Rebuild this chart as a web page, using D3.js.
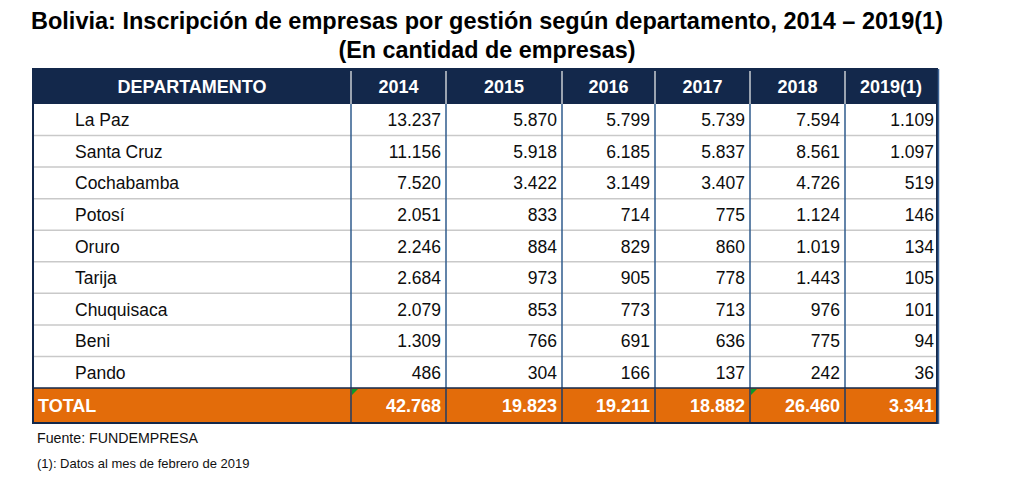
<!DOCTYPE html>
<html>
<head>
<meta charset="utf-8">
<script src="https://cdn.jsdelivr.net/npm/d3@7"></script>
<style>
  html, body { margin: 0; padding: 0; background: #fff; }
  svg { display: block; }
  text { font-family: "Liberation Sans", Arial, sans-serif; }
</style>
</head>
<body>
<svg id="chart" width="1024" height="479"></svg>
<script>
// ---- DATA ----
const titleLines = ["Bolivia: Inscripción de empresas por gestión según departamento, 2014 – 2019(1)", "(En cantidad de empresas)"];
const headerFirst = "DEPARTAMENTO";
const years = ["2014", "2015", "2016", "2017", "2018", "2019(1)"];
const departamentos = ["La Paz", "Santa Cruz", "Cochabamba", "Potosí", "Oruro", "Tarija", "Chuquisaca", "Beni", "Pando"];
const v2014 = [13237, 11156, 7520, 2051, 2246, 2684, 2079, 1309, 486];
const v2015 = [5870, 5918, 3422, 833, 884, 973, 853, 766, 304];
const v2016 = [5799, 6185, 3149, 714, 829, 905, 773, 691, 166];
const v2017 = [5739, 5837, 3407, 775, 860, 778, 713, 636, 137];
const v2018 = [7594, 8561, 4726, 1124, 1019, 1443, 976, 775, 242];
const v2019 = [1109, 1097, 519, 146, 134, 105, 101, 94, 36];
const totalLabel = "TOTAL";
const totals = [42768, 19823, 19211, 18882, 26460, 3341];
const footnotes = ["Fuente: FUNDEMPRESA", "(1): Datos al mes de febrero de 2019"];

const series = [v2014, v2015, v2016, v2017, v2018, v2019];

// ---- LAYOUT ----
const colEdges = [33, 351, 446, 562, 655, 750, 845, 937];
const headerTop = 69, headerBottom = 104, bodyBottom = 388, totalBottom = 423;
const navy = "#13284b", orange = "#e36c0a", divBlue = "#2f5b8c", rowGray = "#c9c9c9";

const fmt = d3.formatLocale({ decimal: ",", thousands: ".", grouping: [3], currency: ["", ""] }).format(",d");

const svg = d3.select("#chart");

const colKeys = [headerFirst, ...years];
const xLeft = d3.scaleOrdinal().domain(colKeys).range(colEdges.slice(0, -1));
const xRight = d3.scaleOrdinal().domain(colKeys).range(colEdges.slice(1));
const y = d3.scaleBand().domain(departamentos).range([headerBottom, bodyBottom]);

// ---- TITLE ----
const titleG = svg.append("g");
titleG.append("text").attr("x", 487).attr("y", 29).attr("text-anchor", "middle")
  .attr("font-weight", "bold").attr("font-size", 24)
  .attr("textLength", 912).attr("lengthAdjust", "spacingAndGlyphs")
  .text(titleLines[0]);
titleG.append("text").attr("x", 487).attr("y", 58).attr("text-anchor", "middle")
  .attr("font-weight", "bold").attr("font-size", 24)
  .attr("textLength", 297).attr("lengthAdjust", "spacingAndGlyphs")
  .text(titleLines[1]);

// ---- HEADER ----
svg.append("rect").attr("x", colEdges[0]).attr("y", headerTop)
  .attr("width", colEdges[7] - colEdges[0]).attr("height", headerBottom - headerTop).attr("fill", navy);
svg.selectAll(".hdr").data(colKeys).join("text")
  .attr("x", d => (xLeft(d) + xRight(d)) / 2)
  .attr("y", (headerTop + headerBottom) / 2 + 6.5)
  .attr("text-anchor", "middle").attr("fill", "#fff").attr("font-weight", "bold").attr("font-size", 18)
  .text(d => d);
svg.selectAll(".hdiv").data(colKeys.slice(1)).join("line")
  .attr("x1", d => xLeft(d)).attr("x2", d => xLeft(d))
  .attr("y1", headerTop + 2).attr("y2", headerBottom)
  .attr("stroke", "#9aa3b0").attr("stroke-width", 2);

// ---- BODY ----
const body = svg.append("g");
body.selectAll(".rsep").data(departamentos.slice(1)).join("line")
  .attr("x1", colEdges[0]).attr("x2", colEdges[7])
  .attr("y1", d => y(d)).attr("y2", d => y(d))
  .attr("stroke", rowGray).attr("stroke-width", 1.5);
body.selectAll(".dep").data(departamentos).join("text")
  .attr("x", 75).attr("y", d => y(d) + y.bandwidth() / 2 + 6.5)
  .attr("font-size", 17.5).attr("fill", "#0d0d0d")
  .text(d => d);
years.forEach((yr, j) => {
  const pad = j === years.length - 1 ? 3 : 5;
  body.selectAll(".v" + j).data(series[j]).join("text")
    .attr("x", xRight(yr) - pad)
    .attr("y", (d, i) => y(departamentos[i]) + y.bandwidth() / 2 + 6.5)
    .attr("text-anchor", "end").attr("font-size", 17.5).attr("fill", "#0d0d0d")
    .text(d => fmt(d));
});
body.selectAll(".bdiv").data(colKeys.slice(1)).join("line")
  .attr("x1", d => xLeft(d)).attr("x2", d => xLeft(d))
  .attr("y1", headerBottom).attr("y2", bodyBottom)
  .attr("stroke", divBlue).attr("stroke-width", 1.5);

// ---- TOTAL ----
svg.append("rect").attr("x", colEdges[0]).attr("y", bodyBottom)
  .attr("width", colEdges[7] - colEdges[0]).attr("height", totalBottom - bodyBottom).attr("fill", orange);
svg.append("line").attr("x1", colEdges[0]).attr("x2", colEdges[7])
  .attr("y1", bodyBottom).attr("y2", bodyBottom).attr("stroke", navy).attr("stroke-width", 1.5);
svg.append("text").attr("x", 38).attr("y", (bodyBottom + totalBottom) / 2 + 6.5)
  .attr("fill", "#fff").attr("font-weight", "bold").attr("font-size", 18).text(totalLabel);
svg.selectAll(".tot").data(totals).join("text")
  .attr("x", (d, j) => xRight(years[j]) - (j === years.length - 1 ? 3 : 5))
  .attr("y", (bodyBottom + totalBottom) / 2 + 6.5)
  .attr("text-anchor", "end").attr("fill", "#fff").attr("font-weight", "bold").attr("font-size", 18)
  .text(d => fmt(d));
svg.selectAll(".tdiv").data(colKeys.slice(1)).join("line")
  .attr("x1", d => xLeft(d)).attr("x2", d => xLeft(d))
  .attr("y1", bodyBottom).attr("y2", totalBottom)
  .attr("stroke", "#1f3d66").attr("stroke-width", 1.5);
["2014", "2018"].forEach(k => {
  const x0 = xLeft(k) + 1, y0 = bodyBottom + 1;
  svg.append("path").attr("d", `M${x0},${y0}h6l-6,6z`).attr("fill", "#0a9a2a");
});

// ---- OUTER BORDER ----
svg.append("rect").attr("x", colEdges[0]).attr("y", headerTop)
  .attr("width", colEdges[7] - colEdges[0]).attr("height", totalBottom - headerTop)
  .attr("fill", "none").attr("stroke", navy).attr("stroke-width", 2);
svg.append("line").attr("x1", colEdges[7] + 1.5).attr("x2", colEdges[7] + 1.5)
  .attr("y1", headerTop).attr("y2", totalBottom + 1).attr("stroke", "#3c6496").attr("stroke-width", 1.5);

// ---- FOOTNOTES ----
svg.append("text").attr("x", 37).attr("y", 443).attr("font-size", 14.5).attr("fill", "#111")
  .attr("textLength", 161).attr("lengthAdjust", "spacingAndGlyphs").text(footnotes[0]);
svg.append("text").attr("x", 37).attr("y", 468).attr("font-size", 13).attr("fill", "#111").text(footnotes[1]);
</script>
</body>
</html>
